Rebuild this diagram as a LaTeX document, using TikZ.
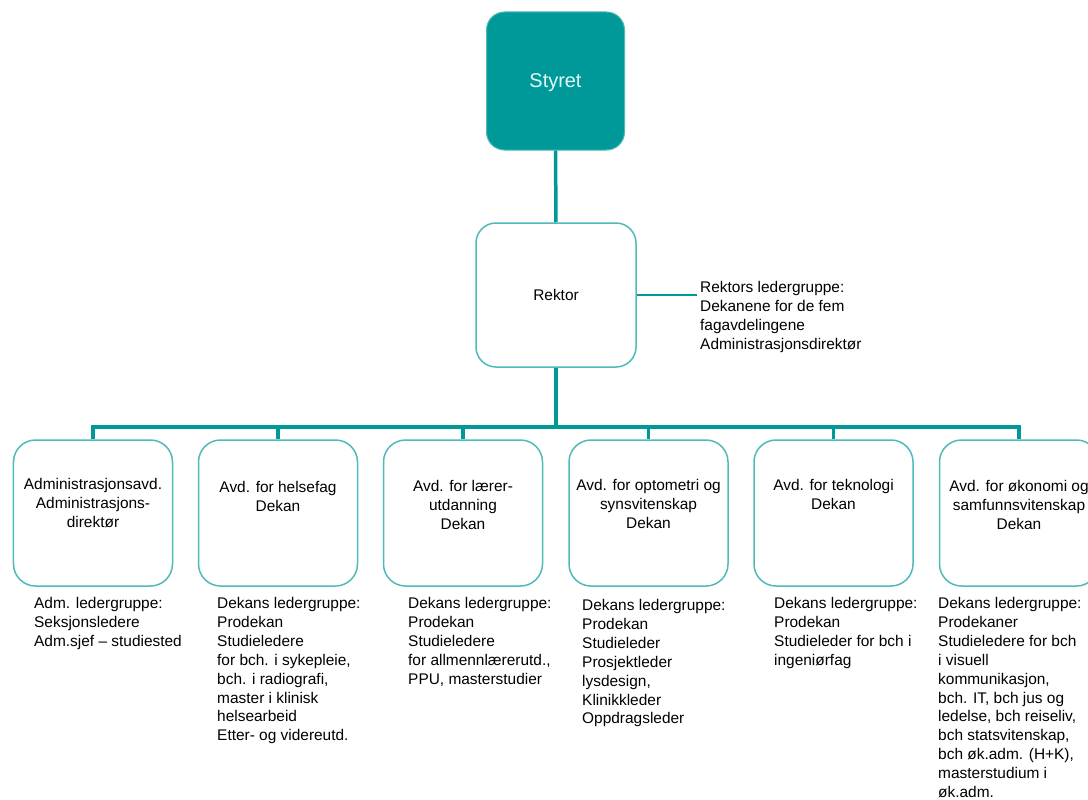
\documentclass[tikz,border=0pt]{standalone}
\usepackage{fontspec}
\setmainfont{Liberation Sans}
\usepackage{xcolor}
\usepackage{tikz}
\usetikzlibrary{positioning}
\definecolor{teal}{RGB}{0,153,153}
\definecolor{paleteal}{RGB}{80,185,185}
\definecolor{paletext}{RGB}{225,250,250}
\tikzstyle{board}=[draw=paleteal, fill=teal, rounded corners=18bp, line width=1bp, minimum width=138bp, minimum height=138bp, inner sep=0pt, text=paletext, text depth=0pt, font=\fontsize{20}{24}\selectfont]
\tikzstyle{office}=[draw=paleteal, rounded corners=20bp, line width=1.5bp, minimum width=160bp, minimum height=144bp, inner sep=0pt]
\tikzstyle{unit}=[draw=paleteal, rounded corners=22bp, line width=1.5bp, minimum width=159bp, minimum height=146bp, inner sep=0pt]
\tikzstyle{caption}=[inner sep=0pt, align=center, anchor=north]
\tikzstyle{note}=[inner sep=0pt, align=left, anchor=north west]
\tikzstyle{bus}=[draw=teal, line width=3.5bp]

\begin{document}
\begin{tikzpicture}[x=1bp, y=-1bp, font=\fontsize{15.5}{19}\selectfont]
        \useasboundingbox (0,0) rectangle (1088,800);
        \clip (0,0) rectangle (1088,800);
        \node[board] (styret) at (555.5,81) {Styret};
        \node[office] (rektor) at (556,295) {Rektor};
        \coordinate (bus) at (556,427);
        \draw[bus] (styret) -- (rektor);
        \draw[bus] (rektor) -- (bus);
        % leaders group
        \coordinate (side) at (697,295);
        \draw[draw=teal, line width=1.5bp] (rektor) -- (side);
        \node[note] (rgroup) at (700,281) {Rektors ledergruppe:\\Dekanene for de fem\\fagavdelingene\\Administrasjonsdirektør};
        % departments
        \foreach \i/\x in {1/93,2/278,3/463,4/648.5,5/833.5,6/1019} {
             \node[unit] (u\i) at (\x,513) {};
             \draw[bus] (bus) -| (u\i.north);
        }
        \node[caption, below=39bp of u1.north] (t1) {Administrasjonsavd.\\Administrasjons-\\direktør};
        \node[caption, below=42bp of u2.north] (t2) {Avd. for helsefag\\Dekan};
        \node[caption, below=41bp of u3.north] (t3) {Avd. for lærer-\\utdanning\\Dekan};
        \node[caption, below=40bp of u4.north] (t4) {Avd. for optometri og\\synsvitenskap\\Dekan};
        \node[caption, below=40bp of u5.north] (t5) {Avd. for teknologi\\Dekan};
        \node[caption, below=41bp of u6.north] (t6) {Avd. for økonomi og\\samfunnsvitenskap\\Dekan};
        % groups below
        \node[note] (g1) at (34,597) {Adm. ledergruppe:\\Seksjonsledere\\Adm.sjef -- studiested};
        \node[note] (g2) at (217,597) {Dekans ledergruppe:\\Prodekan\\Studieledere\\for bch. i sykepleie,\\bch. i radiografi,\\master i klinisk\\helsearbeid\\Etter- og videreutd.};
        \node[note] (g3) at (408,597) {Dekans ledergruppe:\\Prodekan\\Studieledere\\for allmennlærerutd.,\\PPU, masterstudier};
        \node[note] (g4) at (582,599) {Dekans ledergruppe:\\Prodekan\\Studieleder\\Prosjektleder\\lysdesign,\\Klinikkleder\\Oppdragsleder};
        \node[note] (g5) at (774,597) {Dekans ledergruppe:\\Prodekan\\Studieleder for bch i\\ingeniørfag};
        \node[note] (g6) at (938,597) {Dekans ledergruppe:\\Prodekaner\\Studieledere for bch\\i visuell\\kommunikasjon,\\bch. IT, bch jus og\\ledelse, bch reiseliv,\\bch statsvitenskap,\\bch øk.adm. (H+K),\\masterstudium i\\øk.adm.};
    \end{tikzpicture}
\end{document}
